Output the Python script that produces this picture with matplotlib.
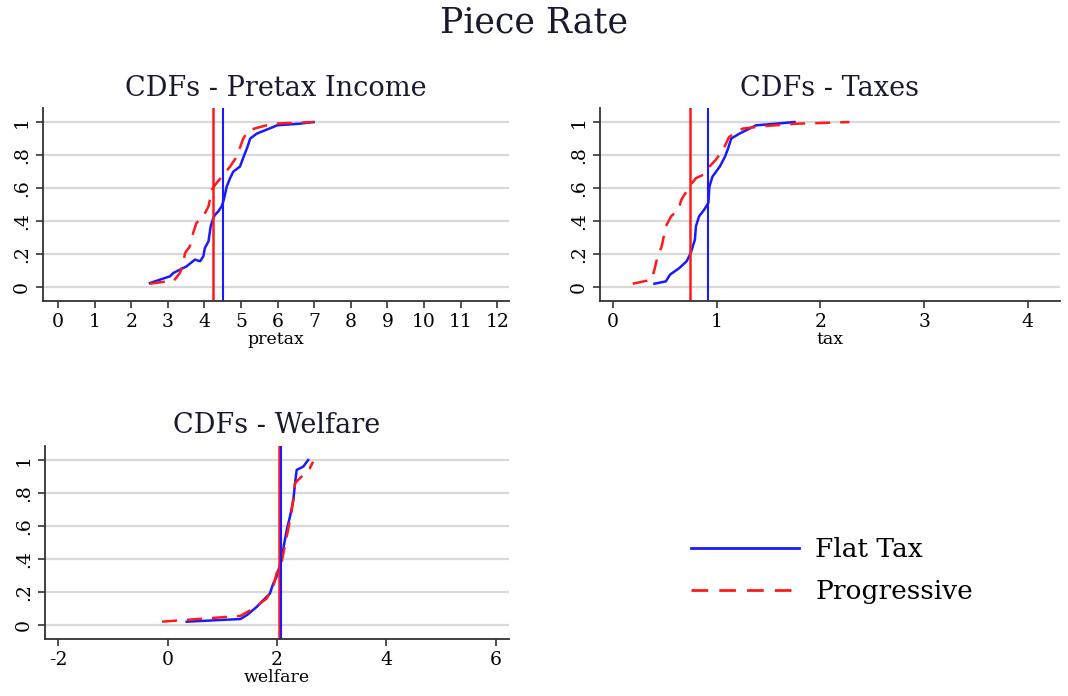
import matplotlib
matplotlib.use("Agg")
import matplotlib.pyplot as plt
from matplotlib.lines import Line2D

plt.rcParams['font.family'] = ['DejaVu Serif']
plt.rcParams['axes.unicode_minus'] = False

# CDF curves (x value, cumulative share)
pretax_flat_x = [2.51, 3.06, 3.15, 3.51, 3.74, 3.88, 3.97, 4.01, 4.11, 4.17, 4.24, 4.29, 4.38, 4.47, 4.53,
                 4.61, 4.70, 4.79, 4.97, 5.07, 5.16, 5.25, 5.43, 5.88, 5.98, 6.60, 6.98]
pretax_flat_y = [0.024, 0.065, 0.085, 0.125, 0.166, 0.156, 0.186, 0.236, 0.277, 0.368, 0.418, 0.438, 0.459,
                 0.489, 0.53, 0.61, 0.66, 0.70, 0.73, 0.79, 0.84, 0.90, 0.93, 0.97, 0.98, 0.99, 1.0]
pretax_prog_x = [2.51, 2.97, 3.15, 3.33, 3.42, 3.47, 3.60, 3.69, 3.78, 3.97, 4.11, 4.15, 4.20, 4.33, 4.52,
                 4.70, 4.88, 5.06, 5.20, 5.52, 5.88, 6.98]
pretax_prog_y = [0.02, 0.034, 0.034, 0.085, 0.145, 0.206, 0.246, 0.327, 0.388, 0.428, 0.489, 0.53, 0.59,
                 0.63, 0.68, 0.73, 0.79, 0.90, 0.95, 0.97, 0.99, 1.0]

tax_flat_x = [0.40, 0.51, 0.55, 0.64, 0.71, 0.75, 0.79, 0.80, 0.83, 0.88, 0.92, 0.93, 0.96, 1.03, 1.08,
              1.11, 1.14, 1.22, 1.38, 1.57, 1.75]
tax_flat_y = [0.02, 0.034, 0.075, 0.115, 0.156, 0.206, 0.287, 0.368, 0.428, 0.469, 0.51, 0.61, 0.67, 0.73,
              0.79, 0.84, 0.90, 0.93, 0.98, 0.99, 1.0]
tax_prog_x = [0.19, 0.37, 0.40, 0.43, 0.47, 0.51, 0.56, 0.63, 0.66, 0.71, 0.75, 0.80, 0.87, 0.93, 0.99,
              1.06, 1.12, 1.25, 1.45, 1.77, 2.28]
tax_prog_y = [0.02, 0.044, 0.105, 0.186, 0.246, 0.368, 0.428, 0.469, 0.53, 0.58, 0.62, 0.66, 0.68, 0.73,
              0.77, 0.83, 0.91, 0.96, 0.975, 0.99, 1.0]

welfare_flat_x = [0.35, 1.33, 1.45, 1.63, 1.81, 1.87, 1.93, 1.99, 2.06, 2.12, 2.18, 2.24, 2.30, 2.33,
                  2.36, 2.48, 2.57]
welfare_flat_y = [0.02, 0.036, 0.06, 0.11, 0.17, 0.19, 0.25, 0.29, 0.37, 0.47, 0.58, 0.66, 0.76, 0.86,
                  0.94, 0.96, 1.0]
welfare_prog_x = [-0.10, 1.33, 1.57, 1.81, 1.93, 1.99, 2.09, 2.15, 2.21, 2.27, 2.33, 2.42, 2.60, 2.66]
welfare_prog_y = [0.02, 0.055, 0.10, 0.16, 0.23, 0.31, 0.39, 0.49, 0.59, 0.69, 0.86, 0.89, 0.95, 0.99]

# means (vertical lines)
pretax_means = {'flat': 4.52, 'prog': 4.23}
tax_means = {'flat': 0.92, 'prog': 0.74}
welfare_means = {'flat': 2.065, 'prog': 2.04}

BLUE = '#1a1aff'
RED = '#ff1a1a'
DASH = (0, (6, 4))

fig = plt.figure(figsize=(10.68, 6.96), dpi=100)
fig.suptitle('Piece Rate', fontsize=25, y=0.992, color='#1a1a2e')


def setup(ax, title, xlabel, xticks, xlim):
    ax.set_title(title, fontsize=19.5, color='#1a1a2e', pad=9)
    ax.set_xlabel(xlabel, fontsize=12.5, labelpad=0)
    ax.set_xticks(xticks)
    ax.set_xlim(xlim)
    ax.set_ylim(-0.085, 1.085)
    ax.set_yticks([0, 0.2, 0.4, 0.6, 0.8, 1])
    ax.set_yticklabels(['0', '.2', '.4', '.6', '.8', '1'], rotation=90, va='center')
    ax.tick_params(labelsize=13.5, length=5, width=1.2, color='#333333')
    for s in ['top', 'right']:
        ax.spines[s].set_visible(False)
    for s in ['left', 'bottom']:
        ax.spines[s].set_linewidth(1.3)
        ax.spines[s].set_color('#333333')
    ax.grid(axis='y', color='#d9d9d9', linewidth=1.6)
    ax.set_axisbelow(True)


def draw(ax, fx, fy, px, py, means):
    ax.plot(fx, fy, color=BLUE, linewidth=1.8)
    ax.plot(px, py, color=RED, linewidth=1.8, linestyle=DASH)
    ax.axvline(means['prog'], color=RED, linewidth=1.8)
    ax.axvline(means['flat'], color=BLUE, linewidth=1.5)


ax1 = fig.add_axes([0.0403, 0.5675, 0.4363, 0.2773])
draw(ax1, pretax_flat_x, pretax_flat_y, pretax_prog_x, pretax_prog_y, pretax_means)
setup(ax1, 'CDFs - Pretax Income', 'pretax', range(0, 13), (-0.41, 12.32))

ax2 = fig.add_axes([0.5618, 0.5675, 0.4307, 0.2773])
draw(ax2, tax_flat_x, tax_flat_y, tax_prog_x, tax_prog_y, tax_means)
setup(ax2, 'CDFs - Taxes', 'tax', range(0, 5), (-0.125, 4.31))

ax3 = fig.add_axes([0.0421, 0.0819, 0.4345, 0.2773])
draw(ax3, welfare_flat_x, welfare_flat_y, welfare_prog_x, welfare_prog_y, welfare_means)
setup(ax3, 'CDFs - Welfare', 'welfare', [-2, 0, 2, 4, 6], (-2.24, 6.24))

handles = [Line2D([], [], color=BLUE, linewidth=2),
           Line2D([], [], color=RED, linewidth=2, linestyle=DASH)]
fig.legend(handles, ['Flat Tax', 'Progressive'], loc='center left',
           bbox_to_anchor=(0.625, 0.18), frameon=False, fontsize=19,
           handlelength=4.1, labelspacing=0.65, handletextpad=0.6)

fig.savefig('out.png', dpi=100)
